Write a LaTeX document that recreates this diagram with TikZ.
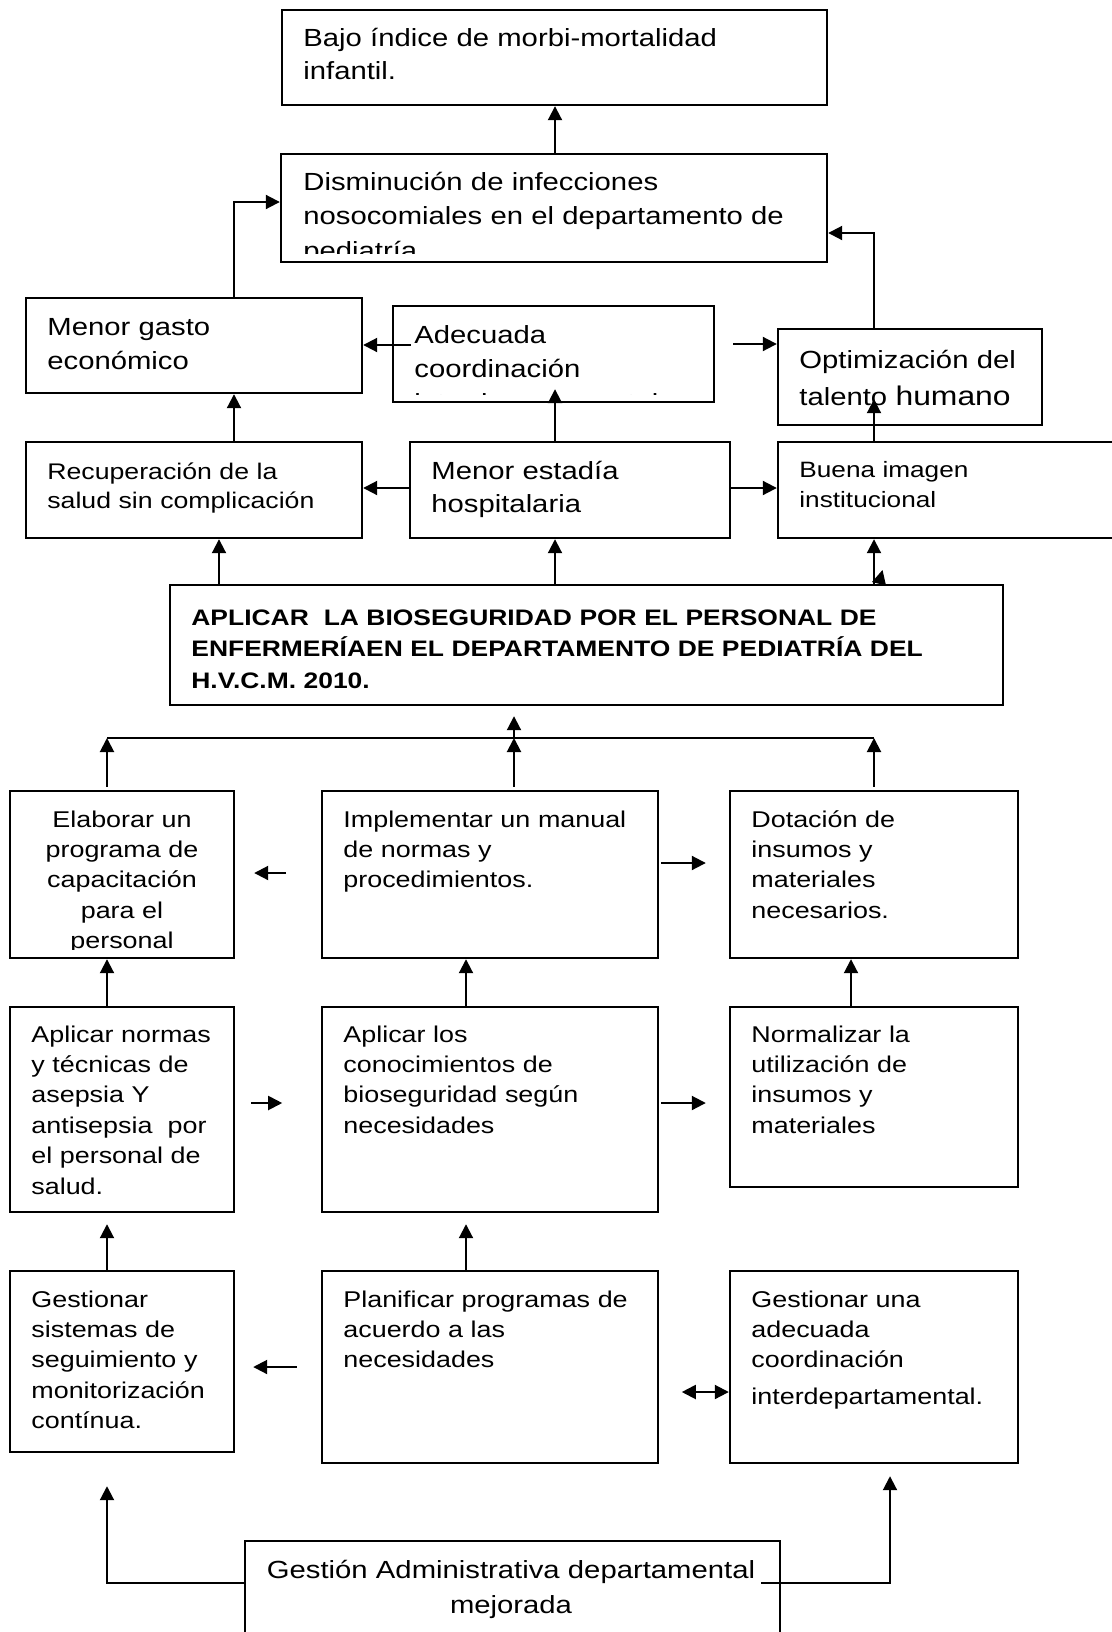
\documentclass[tikz,border=0pt]{standalone}
\usepackage{fontspec}
\setmainfont{Liberation Sans}[FakeStretch=1.18]
\usetikzlibrary{arrows.meta,fit,calc}
\begin{document}
\begin{tikzpicture}[x=0.5pt,y=-0.5pt,
  box/.style={draw, line width=1.2pt, inner sep=0pt},
  txt/.style={inner sep=0pt, anchor=base west, align=left, text width=300pt},
  ctxt/.style={inner sep=0pt, anchor=base, align=center, text width=200pt},
  arr/.style={line width=1pt, -{Triangle[length=7pt,width=7pt]}},
  dbl/.style={line width=1pt, {Triangle[length=7pt,width=7pt]}-{Triangle[length=7pt,width=7pt]}},
  ln/.style={line width=1pt},
  fbig/.style={font=\fontsize{12.4pt}{17pt}\selectfont},
  frow/.style={font=\fontsize{11.4pt}{15.2pt}\selectfont},
]
\useasboundingbox (0,0) rectangle (1112,1632);

% columns and rows
\coordinate (c107) at (107,0);
\coordinate (c219) at (219,0);
\coordinate (c234) at (234,0);
\coordinate (c466) at (466,0);
\coordinate (c514) at (514,0);
\coordinate (c555) at (555,0);
\coordinate (c851) at (851,0);
\coordinate (c874) at (874,0);
\coordinate (c890) at (890,0);
\coordinate (r202) at (0,202);
\coordinate (r233) at (0,233);
\coordinate (r344) at (0,344);
\coordinate (r345) at (0,345);
\coordinate (r488) at (0,488);
\coordinate (r738) at (0,738);
\coordinate (r863) at (0,863);
\coordinate (r873) at (0,873);
\coordinate (r1103) at (0,1103);
\coordinate (r1367) at (0,1367);
\coordinate (r1392) at (0,1392);
\coordinate (r1583) at (0,1583);

% boxes
\node[box, fit={(282,10) (827,105)}] (B1) {};
\node[box, fit={(281,154) (827,262)}] (B2) {};
\node[box, fit={(26,298) (362,393)}] (B3) {};
\node[box, fit={(393,306) (714,402)}] (B4) {};
\node[box, fit={(778,329) (1042,425)}] (B5) {};
\node[box, fit={(26,442) (362,538)}] (B6) {};
\node[box, fit={(410,442) (730,538)}] (B7) {};
\node[box, fit={(778,442) (1140,538)}] (B8) {};
\node[box, fit={(170,585) (1003,705)}] (B9) {};
\node[box, fit={(10,791) (234,958)}] (B10) {};
\node[box, fit={(322,791) (658,958)}] (B11) {};
\node[box, fit={(730,791) (1018,958)}] (B12) {};
\node[box, fit={(10,1007) (234,1212)}] (B13) {};
\node[box, fit={(322,1007) (658,1212)}] (B14) {};
\node[box, fit={(730,1007) (1018,1187)}] (B15) {};
\node[box, fit={(10,1271) (234,1452)}] (B16) {};
\node[box, fit={(322,1271) (658,1463)}] (B17) {};
\node[box, fit={(730,1271) (1018,1463)}] (B18) {};
\node[box, fit={(245,1541) (780,1660)}] (B19) {};

% texts
\node[txt, font=\fontsize{12.4pt}{16.5pt}\selectfont] (T1) at (303,47) {Bajo índice de morbi-mortalidad\\infantil.};
\begin{scope}
\clip (282,155) rectangle (826,253);
\node[txt, fbig] (T2) at (303,191) {Disminución de infecciones\\nosocomiales en el departamento de\\pediatría};
\end{scope}
\node[txt, fbig] (T3) at (47,335) {Menor gasto\\económico};
\begin{scope}
\clip (394,307) rectangle (713,394);
\node[txt, fbig] (T4) at (414,343) {Adecuada\\coordinación\\interdepartamental};
\end{scope}
\node[txt, font=\fontsize{12.4pt}{18.5pt}\selectfont] (T5) at (799,368) {Optimización del\\talento {\fontsize{13.5pt}{18.5pt}\selectfont humano}};
\node[txt, font=\fontsize{11.3pt}{14.8pt}\selectfont] (T6) at (47,479) {Recuperación de la\\salud sin complicación};
\node[txt, font=\fontsize{12.4pt}{16.5pt}\selectfont] (T7) at (431,479) {Menor estadía\\hospitalaria};
\node[txt, font=\fontsize{11.1pt}{15pt}\selectfont] (T8) at (799,477) {Buena imagen\\institucional};
\node[txt, text width=430pt, font=\fontsize{11.2pt}{15.9pt}\selectfont\bfseries] (T9) at (191,625) {APLICAR~ LA BIOSEGURIDAD POR EL PERSONAL DE\\ENFERMERÍAEN EL DEPARTAMENTO DE PEDIATRÍA DEL\\H.V.C.M. 2010.};
\begin{scope}
\clip (11,792) rectangle (233,949);
\node[ctxt, frow] (T10) at (122,827) {Elaborar un\\programa de\\capacitación\\para el\\personal};
\end{scope}
\node[txt, frow] (T11) at (343,827) {Implementar un manual\\de normas y\\procedimientos.};
\node[txt, frow] (T12) at (751,827) {Dotación de\\insumos y\\materiales\\necesarios.};
\node[txt, frow] (T13) at (31,1042) {Aplicar normas\\y técnicas de\\asepsia Y\\antisepsia~ por\\el personal de\\salud.};
\node[txt, frow] (T14) at (343,1042) {Aplicar los\\conocimientos de\\bioseguridad según\\necesidades};
\node[txt, frow] (T15) at (751,1042) {Normalizar la\\utilización de\\insumos y\\materiales};
\node[txt, frow] (T16) at (31,1307) {Gestionar\\sistemas de\\seguimiento y\\monitorización\\contínua.};
\node[txt, frow] (T17) at (343,1307) {Planificar programas de\\acuerdo a las\\necesidades};
\node[txt, frow] (T18) at (751,1307) {Gestionar una\\adecuada\\coordinación\\[3pt]interdepartamental.};
\node[ctxt, text width=300pt, font=\fontsize{12.4pt}{17.5pt}\selectfont] (T19) at (511,1578) {Gestión Administrativa departamental\\mejorada};

% connectors, upper part
\draw[arr] (B2.north -| c555) -- (B1.south -| c555);
\draw[arr] (B3.north -| c234) |- (B2.west |- r202);
\draw[arr] (B5.north -| c874) |- (B2.east |- r233);
\draw[arr] ($(B4.west |- r345)+(19,0)$) -- (B3.east |- r345);
\draw[arr] ($(B4.east |- r344)+(18,0)$) -- (B5.west |- r344);
\draw[arr] (B6.north -| c234) -- (B3.south -| c234);
\draw[arr] (B7.north -| c555) -- ($(B4.south -| c555)+(0,-14)$);
\draw[arr] (B8.north -| c874) -- ($(B5.south -| c874)+(0,-27)$);
\draw[arr] (B7.west |- r488) -- (B6.east |- r488);
\draw[arr] (B7.east |- r488) -- (B8.west |- r488);
\draw[arr] (B9.north -| c219) -- (B6.south -| c219);
\draw[arr] (B9.north -| c555) -- (B7.south -| c555);
\draw[arr] (B9.north -| c874) -- (B8.south -| c874);
\fill (882.5,570) -- (872,582) -- (886,585.5) -- cycle;

% bus to main box
\draw[ln] (c107 |- r738) -- (c874 |- r738);
\draw[arr] ($(B10.north -| c107)+(0,-3)$) -- (c107 |- r738);
\draw[arr] ($(B11.north -| c514)+(0,-3)$) -- (c514 |- r738);
\draw[arr] ($(B12.north -| c874)+(0,-3)$) -- (c874 |- r738);
\draw[arr] (c514 |- r738) -- ($(B9.south -| c514)+(0,10)$);

% middle rows
\draw[arr] ($(B10.east |- r873)+(51,0)$) -- ($(B10.east |- r873)+(19,0)$);
\draw[arr] ($(B11.east |- r863)+(2,0)$) -- ($(B12.west |- r863)+(-23,0)$);
\draw[arr] (B13.north -| c107) -- (B10.south -| c107);
\draw[arr] (B14.north -| c466) -- (B11.south -| c466);
\draw[arr] (B15.north -| c851) -- (B12.south -| c851);
\draw[arr] ($(B13.east |- r1103)+(16,0)$) -- ($(B13.east |- r1103)+(47,0)$);
\draw[arr] ($(B14.east |- r1103)+(2,0)$) -- ($(B15.west |- r1103)+(-23,0)$);

% lower rows
\draw[arr] (B16.north -| c107) -- ($(B13.south -| c107)+(0,11)$);
\draw[arr] (B17.north -| c466) -- ($(B14.south -| c466)+(0,11)$);
\draw[arr] ($(B17.west |- r1367)+(-24,0)$) -- ($(B16.east |- r1367)+(18,0)$);
\draw[dbl] ($(B18.west |- r1392)+(-47,0)$) -- (B18.west |- r1392);

% from bottom box
\draw[arr] (B19.west |- r1583) -| ($(B16.south -| c107)+(0,33)$);
\draw[arr] ($(B19.east |- r1583)+(-20,0)$) -| ($(B18.south -| c890)+(0,12)$);
\end{tikzpicture}
\end{document}
